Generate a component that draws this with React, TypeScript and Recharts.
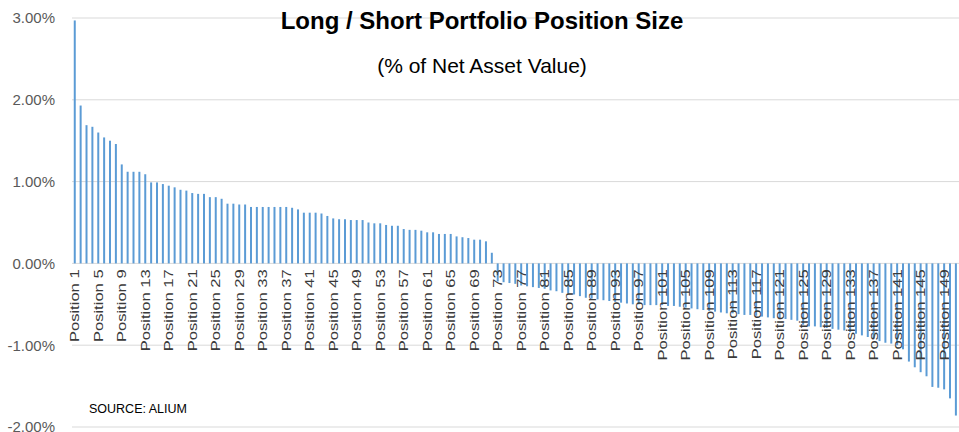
import { Bar, BarChart, CartesianGrid, XAxis, YAxis } from "recharts";

// long book, positions 1-72 (% of NAV)
const longSizes = [
  2.97, 1.93, 1.69, 1.67, 1.6, 1.54, 1.5, 1.46, 1.21, 1.12, 1.12, 1.12, 1.09,
  0.99, 0.99, 0.97, 0.95, 0.93, 0.9, 0.89, 0.86, 0.85, 0.85, 0.81, 0.81, 0.79,
  0.73, 0.73, 0.72, 0.72, 0.69, 0.69, 0.69, 0.69, 0.69, 0.69, 0.69, 0.68, 0.66,
  0.62, 0.62, 0.62, 0.61, 0.58, 0.55, 0.54, 0.54, 0.53, 0.53, 0.53, 0.5, 0.49,
  0.49, 0.47, 0.46, 0.46, 0.42, 0.41, 0.41, 0.4, 0.38, 0.38, 0.36, 0.36, 0.36,
  0.33, 0.32, 0.31, 0.29, 0.29, 0.27, 0.13,
];

// short book, positions 73-151
const shortSizes = [
  -0.22, -0.23, -0.24, -0.25, -0.27, -0.28, -0.29, -0.3, -0.31, -0.33, -0.34,
  -0.36, -0.37, -0.38, -0.4, -0.42, -0.43, -0.44, -0.45, -0.46, -0.47, -0.48,
  -0.49, -0.5, -0.5, -0.51, -0.51, -0.51, -0.51, -0.52, -0.52, -0.53, -0.54,
  -0.55, -0.56, -0.57, -0.58, -0.59, -0.6, -0.61, -0.61, -0.62, -0.63, -0.63,
  -0.64, -0.65, -0.66, -0.67, -0.67, -0.68, -0.69, -0.7, -0.75, -0.77, -0.77,
  -0.78, -0.79, -0.8, -0.81, -0.82, -0.84, -0.86, -0.88, -0.9, -0.92, -0.95,
  -0.97, -0.98, -1.0, -1.05, -1.2, -1.27, -1.33, -1.38, -1.51, -1.52, -1.54,
  -1.65, -1.86,
];

const yTicks = [-2, -1, 0, 1, 2, 3];

const data = [...longSizes, ...shortSizes].map((value, i) => ({
  position: `Position ${i + 1}`,
  value,
}));

const FONT = "'Liberation Sans', Arial, sans-serif";
const WIDTH = 959;
const HEIGHT = 432;
const MARGIN = { top: 18, right: 0, bottom: 0, left: 0 };
const X_AXIS_H = 5;
const Y_MIN = -2;
const Y_MAX = 3;

// category labels sit on the zero line, not at the bottom of the plot
const plotH = HEIGHT - MARGIN.top - MARGIN.bottom - X_AXIS_H;
const zeroY = MARGIN.top + (plotH * Y_MAX) / (Y_MAX - Y_MIN);

function PositionTick(props: any) {
  const { x, payload } = props;
  return (
    <g transform={`translate(${x},${zeroY + 6}) rotate(-90) scale(1.38,1.05)`}>
      <text
        textAnchor="end"
        dy="0.36em"
        fontSize={12}
        fontFamily={FONT}
        fill="#3a3a3a"
      >
        {payload.value}
      </text>
    </g>
  );
}

export default function App() {
  return (
    <div
      style={{
        position: "absolute",
        left: 0,
        top: 0,
        width: WIDTH,
        height: HEIGHT,
        background: "#fff",
        fontFamily: FONT,
      }}
    >
      <BarChart
        width={WIDTH}
        height={HEIGHT}
        data={data}
        margin={MARGIN}
        barCategoryGap="30%"
      >
        <CartesianGrid vertical={false} stroke="#d9d9d9" />
        <YAxis
          domain={[Y_MIN, Y_MAX]}
          ticks={yTicks}
          interval={0}
          width={72}
          axisLine={false}
          tickLine={false}
          tickSize={0}
          tickMargin={17}
          tickFormatter={(v: number) => `${v.toFixed(2)}%`}
          tick={{ fontSize: 15, fill: "#595959", fontFamily: FONT }}
        />
        <Bar dataKey="value" fill="#5b9bd5" isAnimationActive={false} />
        <XAxis
          dataKey="position"
          interval={3}
          height={X_AXIS_H}
          axisLine={false}
          tickLine={false}
          tick={PositionTick}
        />
      </BarChart>
      <div
        style={{
          position: "absolute",
          left: 182,
          top: 9,
          width: 600,
          textAlign: "center",
          fontSize: 24,
          lineHeight: "24px",
          fontWeight: "bold",
          color: "#000",
        }}
      >
        Long / Short Portfolio Position Size
      </div>
      <div
        style={{
          position: "absolute",
          left: 182,
          top: 55,
          width: 600,
          textAlign: "center",
          fontSize: 21,
          lineHeight: "21px",
          color: "#000",
        }}
      >
        (% of Net Asset Value)
      </div>
      <div
        style={{
          position: "absolute",
          left: 89,
          top: 402,
          fontSize: 12.5,
          lineHeight: "14px",
          color: "#000",
        }}
      >
        SOURCE: ALIUM
      </div>
    </div>
  );
}
